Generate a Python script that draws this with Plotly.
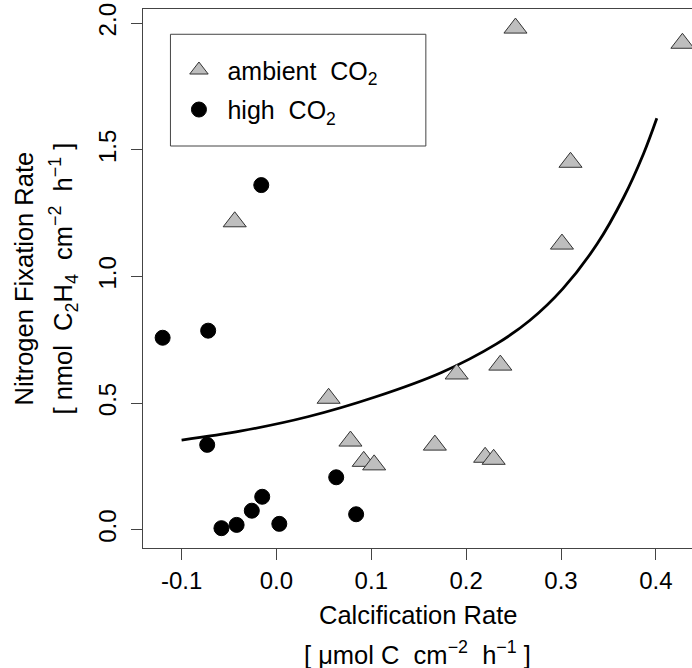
import plotly.graph_objects as go

# Calcification rate (x) vs nitrogen fixation rate (y)
ambient_x = [-0.044, 0.055, 0.078, 0.092, 0.103, 0.167, 0.190, 0.220, 0.229, 0.236, 0.252, 0.301, 0.310, 0.428]
ambient_y = [1.216, 0.519, 0.350, 0.270, 0.256, 0.334, 0.615, 0.286, 0.278, 0.650, 1.981, 1.128, 1.451, 1.921]

high_x = [-0.120, -0.072, -0.073, -0.016, -0.058, -0.042, -0.026, -0.015, 0.003, 0.063, 0.084]
high_y = [0.758, 0.786, 0.335, 1.361, 0.006, 0.019, 0.075, 0.130, 0.023, 0.207, 0.061]

# Fitted relationship
fit_x = [-0.100, -0.037, 0.033, 0.104, 0.174, 0.232, 0.267, 0.302, 0.338, 0.366, 0.387, 0.401]
fit_y = [0.354, 0.390, 0.446, 0.524, 0.621, 0.734, 0.826, 0.952, 1.128, 1.312, 1.485, 1.625]

x_ticks = [-0.1, 0.0, 0.1, 0.2, 0.3, 0.4]
x_tick_labels = ["-0.1", "0.0", "0.1", "0.2", "0.3", "0.4"]
y_ticks = [0.0, 0.5, 1.0, 1.5, 2.0]
y_tick_labels = ["0.0", "0.5", "1.0", "1.5", "2.0"]

FONT = "Liberation Sans, Arial, sans-serif"
FS = 24
FS_TITLE = 25.5
AXIS_COLOR = "#444444"

fig = go.Figure()

fig.add_trace(go.Scatter(
    x=fit_x, y=fit_y, mode="lines",
    line=dict(color="black", width=2.8, shape="spline", smoothing=1.0),
    showlegend=False, hoverinfo="skip"))

fig.add_trace(go.Scatter(
    x=ambient_x, y=ambient_y, mode="markers", name="ambient  CO<sub>2</sub>",
    legendgroup="a",
    marker=dict(symbol="triangle-up", size=20, color="#BEBEBE",
                line=dict(color="#333333", width=1))))

fig.add_trace(go.Scatter(
    x=high_x, y=high_y, mode="markers", name="high  CO<sub>2</sub>",
    legendgroup="b",
    marker=dict(symbol="circle", size=15, color="black",
                line=dict(color="black", width=1))))

fig.update_layout(
    width=692, height=668,
    margin=dict(l=143, r=0, t=9, b=120),
    plot_bgcolor="white", paper_bgcolor="white",
    font=dict(family=FONT, size=FS, color="black"),
    showlegend=True,
    legend=dict(x=0.05, y=0.929, xanchor="left", yanchor="top",
                bgcolor="rgba(0,0,0,0)", borderwidth=0,
                itemwidth=47, tracegroupgap=4,
                font=dict(family=FONT, size=25, color="black")),
    xaxis=dict(range=[-0.1407, 0.4381], showgrid=False, zeroline=False,
               showline=True, mirror=True, linecolor=AXIS_COLOR, linewidth=1,
               ticks="outside", ticklen=11, tickcolor=AXIS_COLOR, tickwidth=1,
               tickvals=x_ticks, ticktext=x_tick_labels,
               tickfont=dict(family=FONT, size=FS, color="black")),
    yaxis=dict(range=[-0.0723, 2.0564], showgrid=False, zeroline=False,
               showline=True, mirror=False, linecolor=AXIS_COLOR, linewidth=1,
               ticks="outside", ticklen=11, tickcolor=AXIS_COLOR, tickwidth=1,
               tickvals=y_ticks, ticktext=y_tick_labels, tickangle=-90,
               ticklabelstandoff=5,
               tickfont=dict(family=FONT, size=FS, color="black")),
)

# Legend frame
fig.add_shape(type="rect", xref="paper", yref="paper",
              x0=0.05, x1=0.5152, y0=0.7458, y1=0.9531,
              line=dict(color=AXIS_COLOR, width=1), fillcolor="rgba(0,0,0,0)")

# Axis titles (two lines each)
fig.add_annotation(text="Calcification Rate", xref="paper", yref="paper",
                   x=0.5, y=0, xanchor="center", yanchor="middle", yshift=-67,
                   showarrow=False, font=dict(family=FONT, size=FS_TITLE))
fig.add_annotation(text="[ μmol C  cm<sup>−2</sup>  h<sup>−1</sup> ]", xref="paper", yref="paper",
                   x=0.5, y=0, xanchor="center", yanchor="middle", yshift=-105,
                   showarrow=False, font=dict(family=FONT, size=FS_TITLE))
fig.add_annotation(text="Nitrogen Fixation Rate", xref="paper", yref="paper",
                   x=0, y=0.5, xanchor="center", yanchor="middle", xshift=-120,
                   textangle=-90, showarrow=False, font=dict(family=FONT, size=FS_TITLE))
fig.add_annotation(text="[ nmol  C<sub>2</sub>H<sub>4</sub>  cm<sup>−2</sup>  h<sup>−1</sup> ]",
                   xref="paper", yref="paper",
                   x=0, y=0.5, xanchor="center", yanchor="middle", xshift=-80,
                   textangle=-90, showarrow=False, font=dict(family=FONT, size=FS_TITLE))

fig.write_html("out.html")
